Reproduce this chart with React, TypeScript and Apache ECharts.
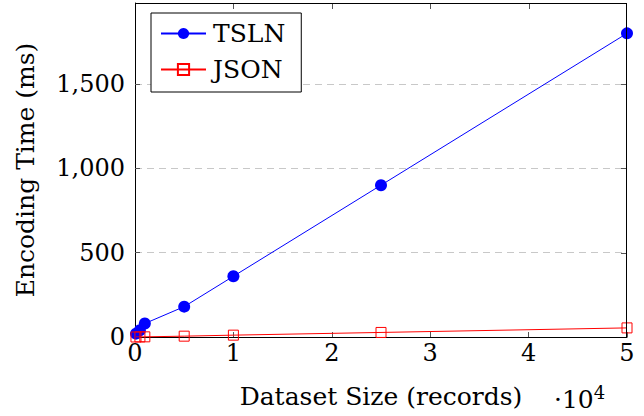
import React, { useEffect, useRef } from 'react';
import * as echarts from 'echarts';

const records = [100, 500, 1000, 5000, 10000, 25000, 50000];
const tslnMs = [20, 40, 80, 180, 360, 900, 1800];
const jsonMs = [0.1, 0.5, 1, 5, 11, 27, 54];
const seriesNames = ['TSLN', 'JSON'];
const xTitle = 'Dataset Size (records)';
const yTitle = 'Encoding Time (ms)';
const xTicks = [0, 10000, 20000, 30000, 40000, 50000];
const yTicks = [0, 500, 1000, 1500];
const X_MAX = 50000;
const Y_MAX = 1980;

const FONT = 'DejaVu Serif';
const FS = 24;
const TFS = 25;
const W = 644;
const H = 416;
const G = { left: 135, right: 17, top: 3, bottom: 79 };

export default function App() {
  const ref = useRef<HTMLDivElement>(null);
  useEffect(() => {
    if (!ref.current) return;
    const chart = echarts.init(ref.current, null, { renderer: 'svg' });
    const tick = () => ({ show: true, inside: true, length: 5, lineStyle: { color: '#555', width: 1 } });
    const axLine = () => ({ show: true, onZero: false, lineStyle: { color: '#000', width: 1 } });

    chart.setOption({
      animation: false,
      textStyle: { fontFamily: FONT, color: '#000' },
      grid: { left: G.left, right: G.right, top: G.top, bottom: G.bottom, containLabel: false },
      legend: {
        orient: 'vertical',
        left: 151,
        top: 13,
        data: seriesNames,
        backgroundColor: '#fff',
        borderColor: '#000',
        borderWidth: 1,
        padding: [8, 16, 10, 9],
        itemGap: 11,
        itemWidth: 45,
        itemHeight: 14,
        textStyle: { fontFamily: FONT, fontSize: TFS, color: '#000', padding: [0, 0, 0, 2] },
      },
      xAxis: {
        type: 'value', min: 0, max: X_MAX, interval: 10000, position: 'bottom',
        axisLine: axLine(), axisTick: tick(), splitLine: { show: false },
        axisLabel: { fontFamily: FONT, fontSize: FS, color: '#000', margin: 4, formatter: (v: number) => String(v / 10000) },
      },
      yAxis: {
        type: 'value', min: 0, max: Y_MAX, interval: 500, position: 'left',
        axisLine: axLine(), axisTick: tick(),
        splitLine: { show: true, lineStyle: { color: '#c8c8c8', width: 1, type: [7, 5] } },
        axisLabel: {
          fontFamily: FONT, fontSize: FS, color: '#000', margin: 10,
          formatter: (v: number) => (v % 500 === 0 ? v.toLocaleString('en-US') : ''),
        },
      },
      series: [
        {
          name: seriesNames[0], type: 'line',
          data: records.map((r, i) => [r, tslnMs[i]]),
          symbol: 'circle', symbolSize: 12,
          lineStyle: { color: '#0000ff', width: 1 },
          itemStyle: { color: '#0000ff' },
          z: 3,
        },
        {
          name: seriesNames[1], type: 'line',
          data: records.map((r, i) => [r, jsonMs[i]]),
          symbol: 'rect', symbolSize: 10,
          lineStyle: { color: '#ff0000', width: 1 },
          itemStyle: { color: 'none', borderColor: '#ff0000', borderWidth: 1 },
          z: 4,
        },
      ],
    });

    const toPx = (x: number, y: number): number[] => {
      const r = chart.convertToPixel({ xAxisIndex: 0, yAxisIndex: 0 }, [x, y]) as any;
      if (r && isFinite(r[0]) && isFinite(r[1])) return r as number[];
      return [
        G.left + (x / X_MAX) * (W - G.left - G.right),
        H - G.bottom - (y / Y_MAX) * (H - G.top - G.bottom),
      ];
    };
    const [x0, y0] = toPx(0, 0);
    const [x1, y1] = toPx(X_MAX, Y_MAX);
    const L = Math.round(x0);
    const B = Math.round(y0);
    const R = Math.round(x1);
    const T = Math.round(y1);

    const shapes: any[] = [
      { type: 'rect', shape: { x: L, y: T, width: R - L, height: 1 }, style: { fill: '#000' }, z: 50 },
      { type: 'rect', shape: { x: R - 1, y: T, width: 1, height: B - T }, style: { fill: '#000' }, z: 50 },
    ];
    xTicks.slice(1, -1).forEach((v) => {
      const px = Math.round(toPx(v, 0)[0]);
      shapes.push({ type: 'rect', shape: { x: px, y: T + 1, width: 1, height: 5 }, style: { fill: '#555' }, z: 50 });
    });
    yTicks.slice(1).forEach((v) => {
      const py = Math.round(toPx(0, v)[1]);
      shapes.push({ type: 'rect', shape: { x: R - 6, y: py, width: 5, height: 1 }, style: { fill: '#555' }, z: 50 });
    });

    chart.setOption({
      graphic: [
        ...shapes,
        {
          type: 'text', x: 25, y: 170, rotation: Math.PI / 2,
          style: { text: yTitle, fontFamily: FONT, fontSize: TFS, fill: '#000', align: 'center', verticalAlign: 'middle' },
        },
        {
          type: 'text', x: 381, y: 396,
          style: { text: xTitle, fontFamily: FONT, fontSize: TFS, fill: '#000', align: 'center', verticalAlign: 'middle' },
        },
        {
          type: 'text', x: 554, y: 399,
          style: {
            text: '·10{sup|4}', fontFamily: FONT, fontSize: TFS, fill: '#000', align: 'left', verticalAlign: 'middle',
            rich: { sup: { fontFamily: FONT, fontSize: 18, fill: '#000', verticalAlign: 'top', padding: [0, 0, 14, 0] } },
          },
        },
      ],
    });
    return () => chart.dispose();
  }, []);
  return <div ref={ref} style={{ width: W, height: H, position: 'absolute', left: 0, top: 0 }} />;
}
